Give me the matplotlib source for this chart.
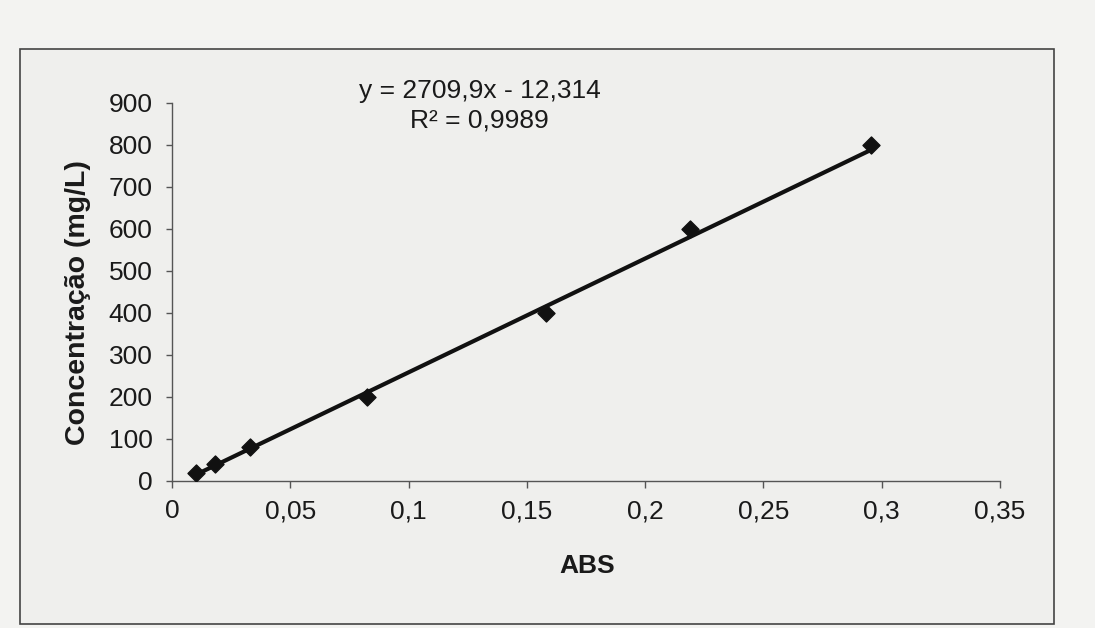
import matplotlib
matplotlib.use("Agg")
import matplotlib.pyplot as plt
from matplotlib.patches import Rectangle
from matplotlib.ticker import FuncFormatter
import numpy as np

# calibration points
abs_values = [0.010, 0.018, 0.033, 0.0825, 0.158, 0.219, 0.2955]
concentration = [20, 40, 80, 200, 400, 600, 800]
slope, intercept = 2709.9, -12.314
x_ticks = [0, 0.05, 0.1, 0.15, 0.2, 0.25, 0.3, 0.35]
y_ticks = [0, 100, 200, 300, 400, 500, 600, 700, 800, 900]

plt.rcParams["font.family"] = ["Liberation Sans", "DejaVu Sans"]

fig = plt.figure(figsize=(10.95, 6.28), dpi=100)
fig.patch.set_facecolor("#f3f3f1")

# chart area frame like the Excel chart border (kept behind the axes)
fig.patches.append(Rectangle((20 / 1095, 1 - 624 / 628), 1034 / 1095, 575 / 628,
                             transform=fig.transFigure, fill=True, zorder=-1,
                             facecolor="#efefed", edgecolor="#444444", linewidth=1.2))

ax = fig.add_axes([172 / 1095, 1 - 481 / 628, 828 / 1095, 378 / 628])
ax.set_facecolor("none")

# trendline over the data range
xs = np.array([min(abs_values), max(abs_values)])
ax.plot(xs, slope * xs + intercept, color="#111111", linewidth=3, zorder=2)
ax.scatter(abs_values, concentration, marker="D", s=75, color="#111111", zorder=3)

ax.set_xlim(0, 0.35)
ax.set_ylim(0, 900)
ax.set_xticks(x_ticks)
ax.set_yticks(y_ticks)
comma = FuncFormatter(lambda v, p: f"{v:g}".replace(".", ","))
ax.xaxis.set_major_formatter(comma)
ax.tick_params(axis="both", labelsize=19, direction="out", length=4,
               color="#555555", width=1, labelcolor="#1a1a1a")
ax.tick_params(axis="x", pad=8, length=5)
ax.tick_params(axis="y", pad=10)

for side in ["top", "right"]:
    ax.spines[side].set_visible(False)
for side in ["left", "bottom"]:
    ax.spines[side].set_color("#555555")
    ax.spines[side].set_linewidth(1)

ax.set_xlabel("ABS", fontsize=19, fontweight="bold", color="#1a1a1a")
ax.set_ylabel("Concentração (mg/L)", fontsize=20.5, fontweight="bold", color="#1a1a1a")
ax.xaxis.set_label_coords(0.502, -0.193)
ax.yaxis.set_label_coords(-0.098, 0.471)

ax.text(0.130, 893, "y = 2709,9x - 12,314\nR² = 0,9989", fontsize=19,
        ha="center", va="center", linespacing=1.3, color="#1a1a1a", clip_on=False)

fig.savefig("out.png", dpi=100, facecolor=fig.get_facecolor())
